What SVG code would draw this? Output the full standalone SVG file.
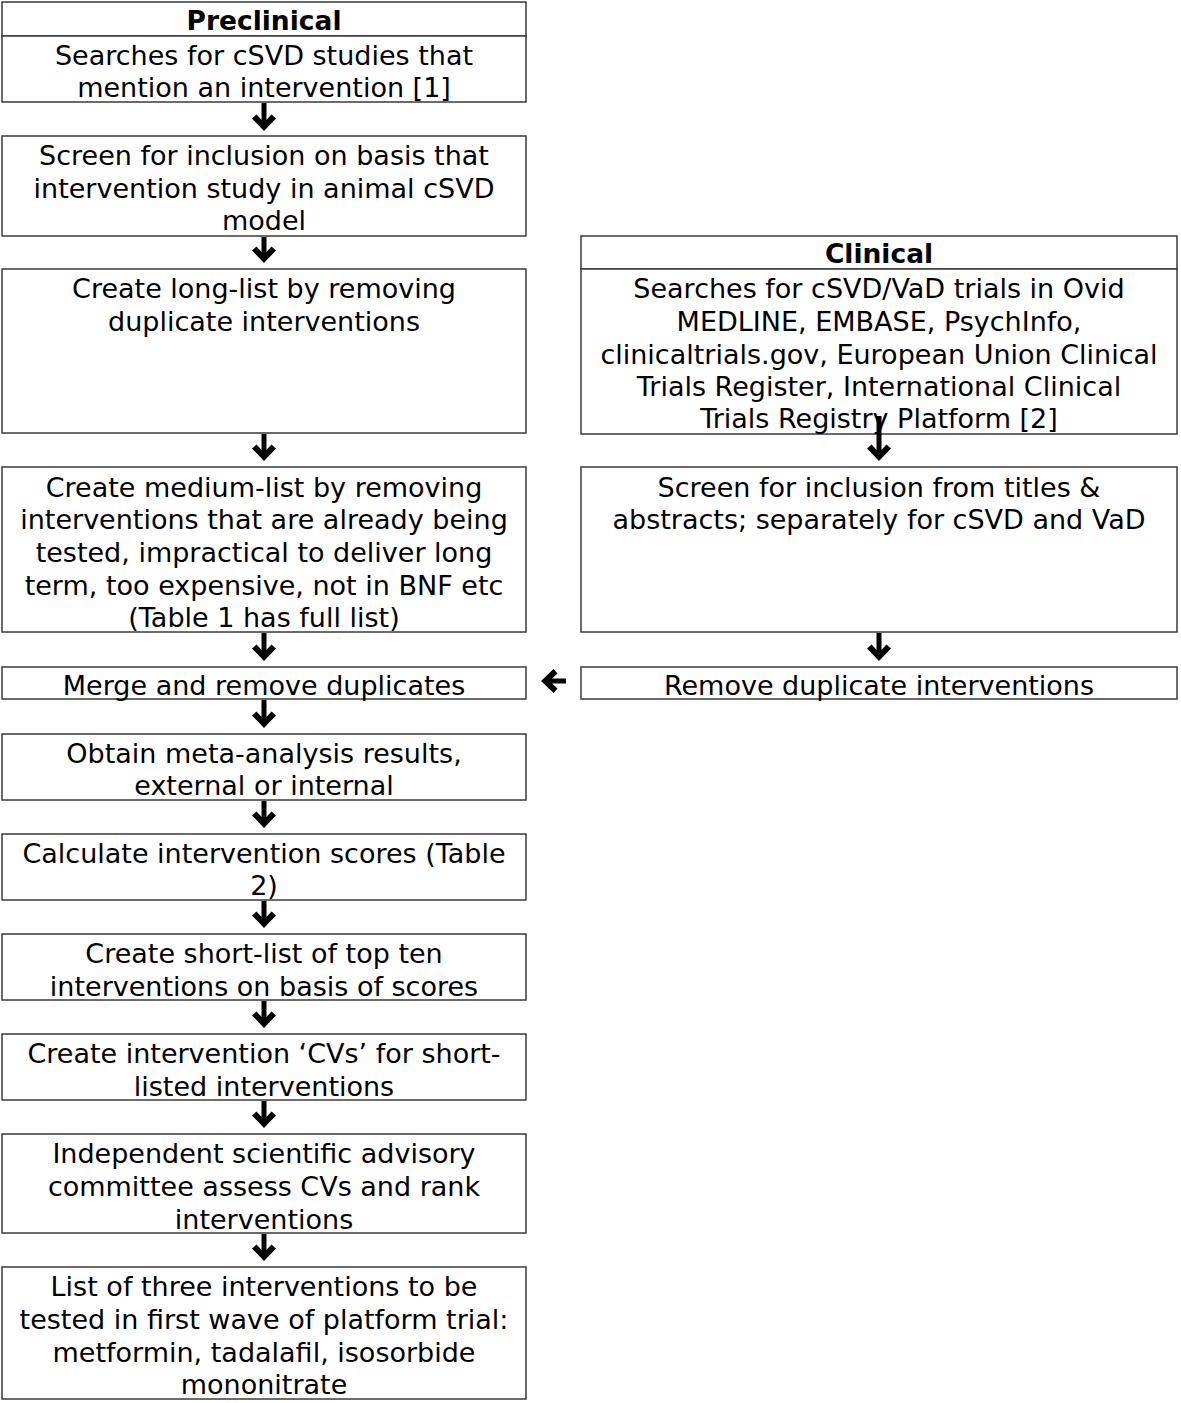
<svg xmlns="http://www.w3.org/2000/svg" width="1181" height="1403" viewBox="0 0 1181 1403">
<style>
.box{fill:#fff;stroke:#3a3a3a;stroke-width:1.5}
.t{font-family:"DejaVu Sans",Verdana,sans-serif;font-size:27px;fill:#000;text-anchor:middle}
.h{font-weight:bold;font-size:26.5px}
.stem{stroke:#000;stroke-width:5;fill:none}
</style>
<defs>
<path id="head" d="M0,0 L-12,-12.5 L-7.5,-16.5 L0,-8.5 L7.5,-16.5 L12,-12.5 Z" fill="#000"/>
</defs>
<rect width="1181" height="1403" fill="#fff"/>
<g id="preclinical-header"><rect class="box" x="2" y="2" width="524" height="34"/><text class="t h" x="264" y="30">Preclinical</text></g>
<g id="n1"><rect class="box" x="2" y="36" width="524" height="66"/><text class="t" x="264" y="65">Searches for cSVD studies that</text><text class="t" x="264" y="97">mention an intervention [1]</text></g>
<g id="n2"><rect class="box" x="2" y="136" width="524" height="100"/><text class="t" x="264" y="165">Screen for inclusion on basis that</text><text class="t" x="264" y="198">intervention study in animal cSVD</text><text class="t" x="264" y="230">model</text></g>
<g id="n3"><rect class="box" x="2" y="269" width="524" height="164"/><text class="t" x="264" y="298">Create long-list by removing</text><text class="t" x="264" y="331">duplicate interventions</text></g>
<g id="n4"><rect class="box" x="2" y="467" width="524" height="165"/><text class="t" x="264" y="497">Create medium-list by removing</text><text class="t" x="264" y="529">interventions that are already being</text><text class="t" x="264" y="562">tested, impractical to deliver long</text><text class="t" x="264" y="595">term, too expensive, not in BNF etc</text><text class="t" x="264" y="627">(Table 1 has full list)</text></g>
<g id="n5"><rect class="box" x="2" y="667" width="524" height="32"/><text class="t" x="264" y="695">Merge and remove duplicates</text></g>
<g id="n6"><rect class="box" x="2" y="734" width="524" height="66"/><text class="t" x="264" y="763">Obtain meta-analysis results,</text><text class="t" x="264" y="795">external or internal</text></g>
<g id="n7"><rect class="box" x="2" y="834" width="524" height="66"/><text class="t" x="264" y="863">Calculate intervention scores (Table</text><text class="t" x="264" y="895">2)</text></g>
<g id="n8"><rect class="box" x="2" y="934" width="524" height="66"/><text class="t" x="264" y="963">Create short-list of top ten</text><text class="t" x="264" y="996">interventions on basis of scores</text></g>
<g id="n9"><rect class="box" x="2" y="1034" width="524" height="66"/><text class="t" x="264" y="1063">Create intervention ‘CVs’ for short-</text><text class="t" x="264" y="1096">listed interventions</text></g>
<g id="n10"><rect class="box" x="2" y="1134" width="524" height="99"/><text class="t" x="264" y="1163">Independent scientific advisory</text><text class="t" x="264" y="1196">committee assess CVs and rank</text><text class="t" x="264" y="1229">interventions</text></g>
<g id="n11"><rect class="box" x="2" y="1267" width="524" height="132"/><text class="t" x="264" y="1296">List of three interventions to be</text><text class="t" x="264" y="1329">tested in first wave of platform trial:</text><text class="t" x="264" y="1362">metformin, tadalafil, isosorbide</text><text class="t" x="264" y="1394">mononitrate</text></g>
<g id="clinical-header"><rect class="box" x="581" y="236" width="596" height="33"/><text class="t h" x="879" y="263">Clinical</text></g>
<g id="c1"><rect class="box" x="581" y="269" width="596" height="165"/><text class="t" x="879" y="298">Searches for cSVD/VaD trials in Ovid</text><text class="t" x="879" y="331">MEDLINE, EMBASE, PsychInfo,</text><text class="t" x="879" y="364">clinicaltrials.gov, European Union Clinical</text><text class="t" x="879" y="396">Trials Register, International Clinical</text><text class="t" x="879" y="428">Trials Registry Platform [2]</text></g>
<g id="c2"><rect class="box" x="581" y="467" width="596" height="165"/><text class="t" x="879" y="497">Screen for inclusion from titles &amp;</text><text class="t" x="879" y="529">abstracts; separately for cSVD and VaD</text></g>
<g id="c3"><rect class="box" x="581" y="667" width="596" height="32"/><text class="t" x="879" y="695">Remove duplicate interventions</text></g>
<g id="connectors">
<line class="stem" x1="264" y1="103" x2="264" y2="125"/><use href="#head" x="264" y="131"/>
<line class="stem" x1="264" y1="237" x2="264" y2="257"/><use href="#head" x="264" y="263"/>
<line class="stem" x1="264" y1="434" x2="264" y2="455"/><use href="#head" x="264" y="461"/>
<line class="stem" x1="264" y1="633" x2="264" y2="655"/><use href="#head" x="264" y="661"/>
<line class="stem" x1="264" y1="700" x2="264" y2="722"/><use href="#head" x="264" y="728"/>
<line class="stem" x1="264" y1="801" x2="264" y2="822"/><use href="#head" x="264" y="828"/>
<line class="stem" x1="264" y1="901" x2="264" y2="922"/><use href="#head" x="264" y="928"/>
<line class="stem" x1="264" y1="1001" x2="264" y2="1022"/><use href="#head" x="264" y="1028"/>
<line class="stem" x1="264" y1="1101" x2="264" y2="1122"/><use href="#head" x="264" y="1128"/>
<line class="stem" x1="264" y1="1234" x2="264" y2="1255"/><use href="#head" x="264" y="1261"/>
<line class="stem" x1="879" y1="416" x2="879" y2="455"/><use href="#head" x="879" y="461"/>
<line class="stem" x1="879" y1="633" x2="879" y2="655"/><use href="#head" x="879" y="661"/>
<line class="stem" x1="566" y1="681" x2="548" y2="681"/><use href="#head" transform="translate(541,681) rotate(90)"/>
</g>
</svg>
